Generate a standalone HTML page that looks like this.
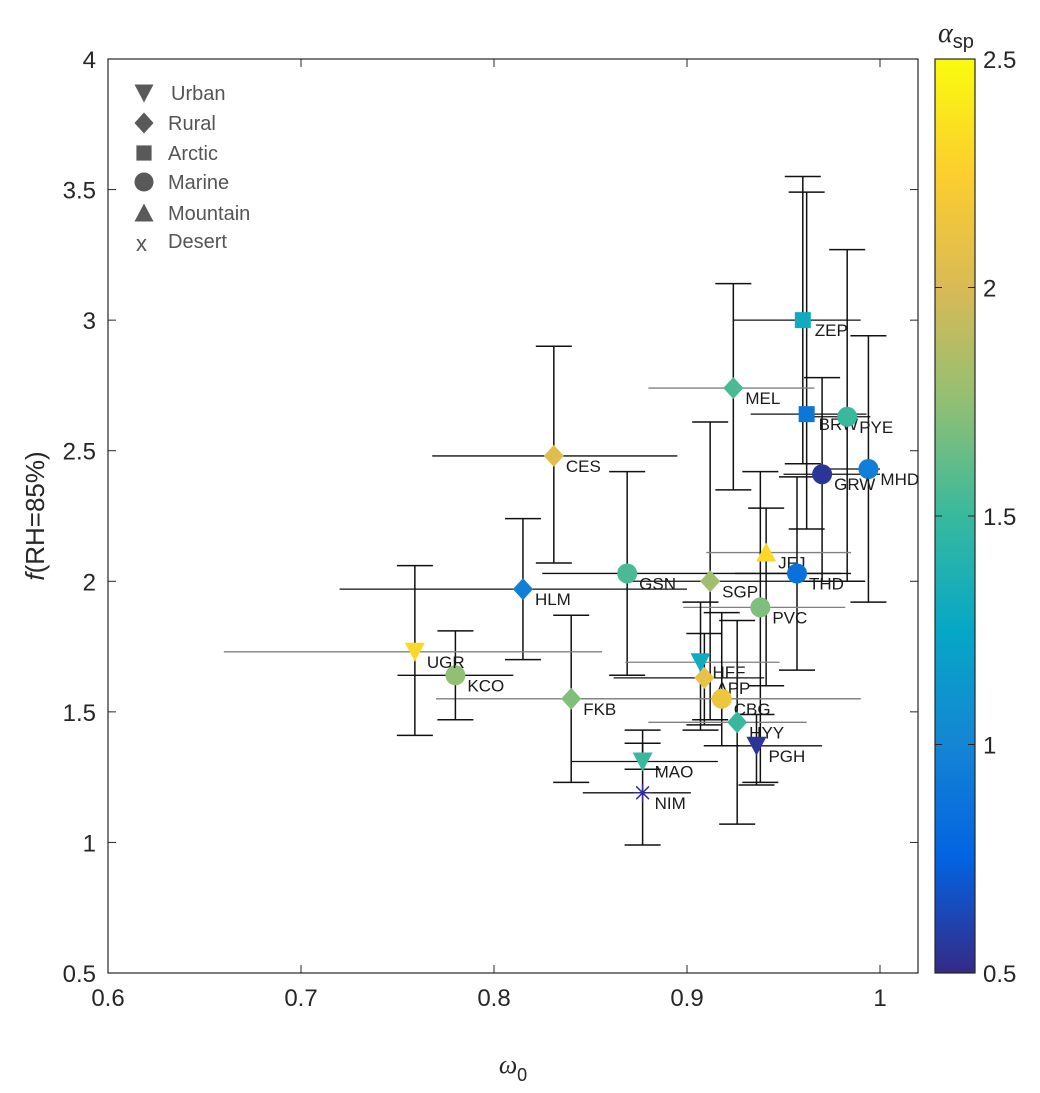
<!DOCTYPE html>
<html><head><meta charset="utf-8">
<style>
html,body{margin:0;padding:0;background:#fff;}
svg{display:block;font-family:"Liberation Sans",Arial,sans-serif;}
</style></head>
<body>
<svg id="chart" width="1040" height="1093" viewBox="0 0 1040 1093">
<defs>
<linearGradient id="parula" x1="0" y1="1" x2="0" y2="0">
<stop offset="0" stop-color="#352a87"/>
<stop offset="0.125" stop-color="#0363e1"/>
<stop offset="0.25" stop-color="#1485d4"/>
<stop offset="0.375" stop-color="#06a7c6"/>
<stop offset="0.5" stop-color="#38b99e"/>
<stop offset="0.625" stop-color="#92bf73"/>
<stop offset="0.75" stop-color="#d9ba56"/>
<stop offset="0.875" stop-color="#fcce2e"/>
<stop offset="1" stop-color="#f9fb0e"/>
</linearGradient>
</defs>
</svg>
<script>
const sites = ["ZEP","BRW","PYE","MHD","GRW","MEL","CES","HLM","GSN","SGP","JFJ","THD","PVC","HFF","APP","CBG","HYY","PGH","MAO","NIM","FKB","KCO","UGR"];
const types = ["arctic","arctic","marine","marine","marine","rural","rural","rural","marine","rural","mountain","marine","marine","urban","rural","marine","rural","urban","urban","desert","rural","marine","urban"];
const omega = [0.960,0.962,0.983,0.994,0.970,0.924,0.831,0.815,0.869,0.912,0.941,0.957,0.938,0.907,0.909,0.918,0.926,0.936,0.877,0.877,0.840,0.780,0.759];
const fRH = [3.00,2.64,2.63,2.43,2.41,2.74,2.48,1.97,2.03,2.00,2.11,2.03,1.90,1.69,1.63,1.55,1.46,1.37,1.31,1.19,1.55,1.64,1.73];
const xLo = [0.924,0.933,0.965,0.970,0.950,0.880,0.768,0.720,0.825,0.870,0.910,0.925,0.898,0.868,0.862,0.838,0.880,0.910,0.840,0.846,0.770,0.750,0.660];
const xHi = [0.990,0.993,0.995,1.000,1.000,0.966,0.895,0.900,0.980,0.975,0.985,0.985,0.982,0.948,0.940,0.990,0.962,0.970,0.916,0.902,0.990,0.810,0.856];
const yLo = [2.45,2.20,2.00,1.92,2.00,2.35,2.07,1.70,1.64,1.47,1.60,1.66,1.23,1.43,1.45,1.37,1.07,1.22,1.28,0.99,1.23,1.47,1.41];
const yHi = [3.55,3.49,3.27,2.94,2.78,3.14,2.90,2.24,2.42,2.61,2.28,2.40,2.42,1.92,1.80,1.88,1.85,1.49,1.43,1.38,1.87,1.81,2.06];
const alphaSp = [1.30,0.90,1.50,0.95,0.55,1.55,2.05,0.95,1.55,1.80,2.30,0.85,1.70,1.30,2.10,2.15,1.50,0.55,1.50,0.52,1.70,1.75,2.30];
const greyX = [0,0,0,0,0,1,0,0,0,0,1,0,1,1,0,1,1,0,0,0,1,0,1];
const xTicks = [0.6,0.7,0.8,0.9,1];
const xTickLabels = ["0.6","0.7","0.8","0.9","1"];
const yTicks = [0.5,1,1.5,2,2.5,3,3.5,4];
const yTickLabels = ["0.5","1","1.5","2","2.5","3","3.5","4"];
const cTicks = [0.5,1,1.5,2,2.5];
const cTickLabels = ["0.5","1","1.5","2","2.5"];

const svg = document.getElementById('chart');
const NS = "http://www.w3.org/2000/svg";
const L=108, R=918, T=59, B=973;
const X0=0.6, X1=0.6+(R-L)/1930;
function sx(v){return L+(v-X0)/(X1-X0)*(R-L);}
function sy(v){return B-(v-0.5)/3.5*(B-T);}
const CL=935, CR=975;
function cy(v){return B-(v-0.5)/2*(B-T);}
function el(tag, attrs, parent){const e=document.createElementNS(NS,tag);for(const k in attrs)e.setAttribute(k,attrs[k]);(parent||svg).appendChild(e);return e;}

const stops=[[0,[53,42,135]],[0.125,[3,99,225]],[0.25,[20,133,212]],[0.375,[6,167,198]],[0.5,[56,185,158]],[0.625,[146,191,115]],[0.75,[217,186,86]],[0.875,[252,206,46]],[1,[249,251,14]]];
function parula(a){let t=(a-0.5)/2;t=Math.max(0,Math.min(1,t));for(let i=1;i<stops.length;i++){if(t<=stops[i][0]){const [t0,c0]=stops[i-1],[t1,c1]=stops[i];const f=(t-t0)/(t1-t0);return 'rgb('+c0.map((c,j)=>Math.round(c+(c1[j]-c)*f)).join(',')+')';}}return 'rgb(249,251,14)';}

const box=el('rect',{x:L,y:T,width:R-L,height:B-T,fill:'#fff',stroke:'#262626','stroke-width':1.2});



const xg=el('g',{});


xTicks.forEach((v,i)=>{const x=sx(v);
 el('line',{x1:x,y1:B,x2:x,y2:B-8,stroke:'#262626'},xg);
 el('line',{x1:x,y1:T,x2:x,y2:T+8,stroke:'#262626'},xg);
 const t=el('text',{x:x,y:B+33,'text-anchor':'middle','font-size':24,fill:'#262626'},xg);t.textContent=xTickLabels[i];
 
 
});
const yg=el('g',{});


yTicks.forEach((v,i)=>{const y=sy(v);
 el('line',{x1:L,y1:y,x2:L+8,y2:y,stroke:'#262626'},yg);
 el('line',{x1:R,y1:y,x2:R-8,y2:y,stroke:'#262626'},yg);
 const t=el('text',{x:L-12,y:y+9,'text-anchor':'end','font-size':24,fill:'#262626'},yg);t.textContent=yTickLabels[i];
 
 
});
const xt=el('text',{x:513,y:1073,'text-anchor':'middle','font-size':26,fill:'#262626','font-family':'"Liberation Serif",serif','font-style':'italic'});
xt.innerHTML='ω<tspan font-size="18" dy="8" font-style="normal" font-family="Liberation Sans,sans-serif">0</tspan>';


const yt=el('text',{x:0,y:0,'text-anchor':'middle','font-size':26,fill:'#262626',transform:'translate(44,516) rotate(-90)'});
yt.innerHTML='<tspan font-style="italic">f</tspan>(RH=85%)';



const eg=el('g',{});


sites.forEach((s,i)=>{
 const x=sx(omega[i]), y=sy(fRH[i]);
 const hc=greyX[i]?'#808080':'#111';
 const h=el('line',{x1:sx(xLo[i]),y1:y,x2:sx(xHi[i]),y2:y,stroke:hc,'stroke-width':1.3},eg);
 
 
 const v=el('line',{x1:x,y1:sy(yLo[i]),x2:x,y2:sy(yHi[i]),stroke:'#111','stroke-width':1.5},eg);
 
 
 el('line',{x1:x-18,y1:sy(yLo[i]),x2:x+18,y2:sy(yLo[i]),stroke:'#111','stroke-width':1.5},eg);
 el('line',{x1:x-18,y1:sy(yHi[i]),x2:x+18,y2:sy(yHi[i]),stroke:'#111','stroke-width':1.5},eg);
});

function marker(type,x,y,col,parent,sz){
 sz=sz||1;
 if(type==='urban') return el('polygon',{points:`${x-10*sz},${y-9*sz} ${x+10*sz},${y-9*sz} ${x},${y+10*sz}`,fill:col},parent);
 if(type==='rural') return el('polygon',{points:`${x},${y-11*sz} ${x+10*sz},${y} ${x},${y+11*sz} ${x-10*sz},${y}`,fill:col},parent);
 if(type==='arctic') return el('rect',{x:x-8*sz,y:y-8*sz,width:16*sz,height:16*sz,fill:col},parent);
 if(type==='marine') return el('circle',{cx:x,cy:y,r:10*sz,fill:col},parent);
 if(type==='mountain') return el('polygon',{points:`${x-10*sz},${y+9*sz} ${x+10*sz},${y+9*sz} ${x},${y-10*sz}`,fill:col},parent);
 const g=el('g',{stroke:col,'stroke-width':1.5},parent);
 for(let a=0;a<4;a++){const an=a*Math.PI/4;el('line',{x1:x-9*Math.cos(an),y1:y-9*Math.sin(an),x2:x+9*Math.cos(an),y2:y+9*Math.sin(an)},g);}
 return g;
}

const mg=el('g',{});


sites.forEach((s,i)=>{
 const x=sx(omega[i]), y=sy(fRH[i]);
 const m=marker(types[i],x,y,parula(alphaSp[i]),mg);
 
 
 const t=el('text',{x:x+12,y:y+16,'font-size':17,fill:'#1a1a1a'},mg);t.textContent=s;
 
 
});

const legTypes=["urban","rural","arctic","marine","mountain","desert"];
const legNames=["Urban","Rural","Arctic","Marine","Mountain","Desert"];
const legY=[93,123,153,182,213,241];
const lg=el('g',{});


legTypes.forEach((t,i)=>{
 const g=el('g',{},lg);
 
 
 if(t==='desert'){const tx=el('text',{x:136,y:legY[i]+10,'font-size':22,fill:'#555'},g);tx.textContent='x';}
 else marker(t,144,legY[i],'#595959',g,0.95);
 const tt=el('text',{x:t==='urban'?171:168,y:legY[i]+7,'font-size':20,fill:'#555'},g);tt.textContent=legNames[i];
});

const cb=el('rect',{x:CL,y:T,width:CR-CL,height:B-T,fill:'url(#parula)',stroke:'#262626','stroke-width':1.2});


cTicks.forEach((v,i)=>{const y=cy(v);
 el('line',{x1:CR,y1:y,x2:CR-7,y2:y,stroke:'#262626'});
 el('line',{x1:CL,y1:y,x2:CL+7,y2:y,stroke:'#262626'});
 const t=el('text',{x:CR+8,y:y+9,'font-size':24,fill:'#262626'});t.textContent=cTickLabels[i];
 
 
});
const ct=el('text',{x:938,y:42,'font-size':28,fill:'#262626','font-family':'"Liberation Serif",serif','font-style':'italic'});
ct.innerHTML='α<tspan font-size="20" dy="6" font-style="normal" font-family="Liberation Sans,sans-serif">sp</tspan>';


</script>
</body></html>
